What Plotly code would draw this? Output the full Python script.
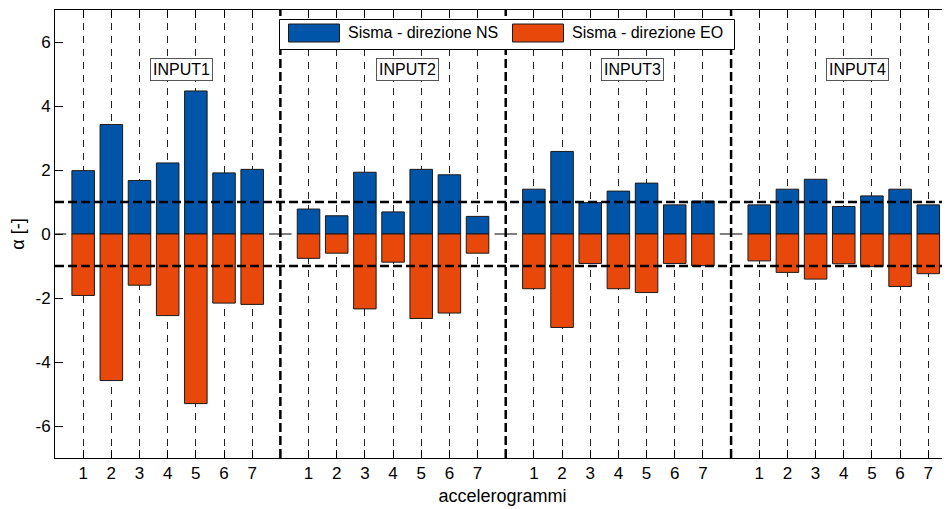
import plotly.graph_objects as go

# ---------------- data ----------------
GROUPS = ["INPUT1", "INPUT2", "INPUT3", "INPUT4"]
ACCEL_LABELS = ["1", "2", "3", "4", "5", "6", "7"]
Y_TICKS = [-6, -4, -2, 0, 2, 4, 6]

NS_INPUT1 = [1.98, 3.42, 1.67, 2.22, 4.47, 1.91, 2.02]
NS_INPUT2 = [0.78, 0.57, 1.93, 0.69, 2.02, 1.85, 0.55]
NS_INPUT3 = [1.40, 2.58, 0.98, 1.34, 1.59, 0.91, 1.03]
NS_INPUT4 = [0.91, 1.40, 1.71, 0.86, 1.19, 1.40, 0.91]

EO_INPUT1 = [-1.92, -4.58, -1.60, -2.55, -5.30, -2.16, -2.20]
EO_INPUT2 = [-0.76, -0.60, -2.34, -0.88, -2.64, -2.47, -0.60]
EO_INPUT3 = [-1.71, -2.92, -0.92, -1.71, -1.83, -0.92, -0.99]
EO_INPUT4 = [-0.84, -1.20, -1.41, -0.93, -1.02, -1.64, -1.24]

THRESHOLDS = [1, -1]
SERIES_NAMES = ["Sisma - direzione NS", "Sisma - direzione EO"]

# ---------------- layout helpers ----------------
NS = [NS_INPUT1, NS_INPUT2, NS_INPUT3, NS_INPUT4]
EO = [EO_INPUT1, EO_INPUT2, EO_INPUT3, EO_INPUT4]
n_items = len(ACCEL_LABELS)
stride = n_items + 1  # one empty slot between groups

x_pos, ns_vals, eo_vals, tick_text = [], [], [], []
for g in range(len(GROUPS)):
    for i, lab in enumerate(ACCEL_LABELS):
        x_pos.append(g * stride + i + 1)
        ns_vals.append(NS[g][i])
        eo_vals.append(EO[g][i])
        tick_text.append(lab)

separators = [(g + 1) * stride for g in range(len(GROUPS) - 1)]
zero_slots = [g * stride for g in range(len(GROUPS) + 1)]

BLUE = "#0055A8"
ORANGE = "#E8490A"
FONT = "Liberation Sans, Arial, Helvetica, sans-serif"
BAR_W = 0.8

# page body has an 8px margin: shrink figure so the plot lands where the reference has it
OFF = 8
W, H = 950 - OFF, 509 - OFF
ML, MR, MT, MB = 55 - OFF, 0, 10 - OFF, 51
px_per_unit = 28.17
x_max = (W - ML - MR) / px_per_unit

fig = go.Figure()
fig.add_trace(go.Bar(x=x_pos, y=ns_vals, width=BAR_W, name=SERIES_NAMES[0],
                     marker=dict(color=BLUE, line=dict(color="#1a1a1a", width=1)),
                     showlegend=False))
fig.add_trace(go.Bar(x=x_pos, y=eo_vals, width=BAR_W, name=SERIES_NAMES[1],
                     marker=dict(color=ORANGE, line=dict(color="#1a1a1a", width=1)),
                     showlegend=False))

# zero-height bars at empty slots (drawn as their outline)
zx, zy = [], []
for p in zero_slots:
    zx += [p - BAR_W / 2, p + BAR_W / 2, None]
    zy += [0, 0, None]
fig.add_trace(go.Scatter(x=zx, y=zy, mode="lines", line=dict(color="black", width=1),
                         showlegend=False, hoverinfo="skip"))

shapes = []
for s in separators:
    shapes.append(dict(type="line", xref="x", yref="paper", x0=s, x1=s, y0=0, y1=1,
                       line=dict(color="black", width=2.5, dash="9px,4px"), layer="above"))
for t in THRESHOLDS:
    shapes.append(dict(type="line", xref="paper", yref="y", x0=0, x1=1, y0=t, y1=t,
                       line=dict(color="black", width=2.5, dash="9px,4px"), layer="above"))

# custom legend box (MATLAB style wide swatches); pixel values are in reference-image coords
def px2x(px):
    return (px - OFF - ML) / (W - ML - MR)

def px2y(py):
    return (H - MB - (py - OFF)) / (H - MT - MB)

shapes.append(dict(type="rect", xref="paper", yref="paper",
                   x0=px2x(279.5), x1=px2x(734.5), y0=px2y(49.5), y1=px2y(19.5),
                   fillcolor="white", line=dict(color="black", width=1), layer="above"))
legend_items = [(288.5, 339.5, 346, BLUE), (512.5, 563.5, 570, ORANGE)]
annotations = []
for (sx0, sx1, tx, col), name in zip(legend_items, SERIES_NAMES):
    shapes.append(dict(type="rect", xref="paper", yref="paper",
                       x0=px2x(sx0), x1=px2x(sx1), y0=px2y(42), y1=px2y(24),
                       fillcolor=col, line=dict(color="#1a1a1a", width=1), layer="above"))
    annotations.append(dict(xref="paper", yref="paper", x=px2x(tx), y=px2y(33),
                            xanchor="left", yanchor="middle", text=name, showarrow=False,
                            font=dict(family=FONT, size=16, color="black")))

for g, name in enumerate(GROUPS):
    annotations.append(dict(xref="x", yref="y", x=g * stride + 3.38, y=5.15,
                            xanchor="left", yanchor="middle", text=name, showarrow=False,
                            font=dict(family=FONT, size=16, color="black"),
                            bgcolor="white", bordercolor="#555555", borderwidth=1, borderpad=2))

fig.update_layout(
    width=W, height=H,
    margin=dict(l=ML, r=MR, t=MT, b=MB, autoexpand=False),
    paper_bgcolor="white", plot_bgcolor="white",
    barmode="overlay",
    font=dict(family=FONT, size=16, color="black"),
    shapes=shapes, annotations=annotations,
    showlegend=False,
)
fig.update_xaxes(
    range=[0, x_max], tickmode="array", tickvals=x_pos, ticktext=tick_text,
    ticks="inside", ticklen=8, tickcolor="black", showline=True, linecolor="black",
    linewidth=1, mirror="ticks", showgrid=True, gridcolor="#222222", gridwidth=1,
    griddash="7px,6px", zeroline=False, automargin=False,
    title=dict(text="accelerogrammi", font=dict(family=FONT, size=18), standoff=6),
    tickfont=dict(family=FONT, size=17),
)
fig.update_yaxes(
    range=[-7, 7], tickmode="array", tickvals=Y_TICKS, ticktext=[str(v) for v in Y_TICKS],
    ticks="inside", ticklen=8, tickcolor="black", showline=True, linecolor="black",
    linewidth=1, mirror="ticks", showgrid=False, zeroline=False, automargin=False,
    title=dict(text="α [-]", font=dict(family=FONT, size=18), standoff=10),
    tickfont=dict(family=FONT, size=17),
)

fig.write_html("out.html")
